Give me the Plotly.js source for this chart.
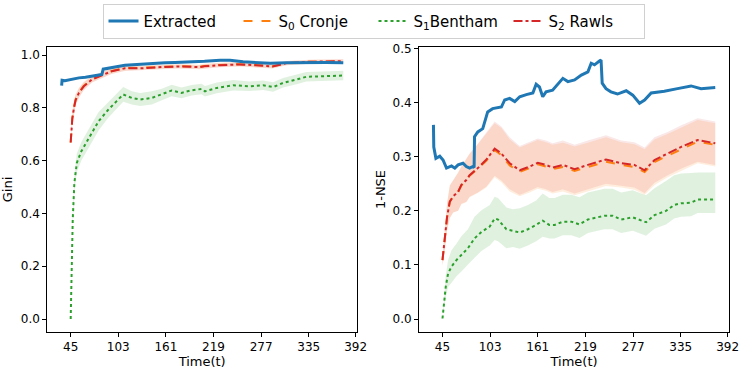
<!DOCTYPE html>
<html>
<head>
<meta charset="utf-8">
<script src="https://cdn.plot.ly/plotly-3.0.1.min.js"></script>
<style>
  body { margin: 0; background: #fff; }
  #chart { width: 747px; height: 372px; }
</style>
</head>
<body>
<div id="chart"></div>
<script>
// x ticks shared by both panels
let timeTicks = [45, 103, 161, 219, 277, 335, 392];

// ---- left panel: Gini ----
let tBlueL = [34, 34.5, 38, 46, 55, 63, 71, 78, 83, 84.6, 92, 99, 111, 124, 136, 148, 160, 172, 184, 202, 208, 227, 239, 255, 270, 288, 308, 322, 336, 356, 377];
let blueL = [0.885, 0.905, 0.903, 0.908, 0.914, 0.916, 0.920, 0.924, 0.927, 0.947, 0.950, 0.955, 0.962, 0.965, 0.967, 0.969, 0.971, 0.972, 0.973, 0.975, 0.977, 0.981, 0.981, 0.975, 0.971, 0.969, 0.971, 0.972, 0.973, 0.972, 0.971];

let tRawlsL = [45, 46, 47, 49, 51, 55, 61, 71, 83, 95, 111, 132, 156, 176, 202, 208, 227, 251, 270, 291, 308, 336, 377];
let rawlsL = [0.669, 0.72, 0.76, 0.80, 0.83, 0.857, 0.882, 0.908, 0.924, 0.939, 0.950, 0.950, 0.955, 0.957, 0.955, 0.958, 0.962, 0.965, 0.962, 0.957, 0.970, 0.975, 0.977];
let cronjeL = [0.669, 0.722, 0.762, 0.802, 0.832, 0.858, 0.884, 0.909, 0.925, 0.940, 0.951, 0.952, 0.956, 0.958, 0.956, 0.959, 0.963, 0.966, 0.963, 0.958, 0.970, 0.975, 0.976];
let spreadRawlsL = [0.005, 0.02, 0.025, 0.025, 0.02, 0.018, 0.015, 0.012, 0.01, 0.01, 0.01, 0.008, 0.008, 0.008, 0.008, 0.008, 0.008, 0.008, 0.008, 0.008, 0.008, 0.008, 0.008];

let tBenthamL = [45, 46, 47.5, 49.5, 52.5, 58, 66.7, 72, 79, 91, 101, 109, 119.5, 129.6, 143.8, 156, 168, 180, 192.4, 204.5, 208.5, 223, 243, 263, 279.4, 291.5, 303.7, 320, 332, 352, 377];
let benthamL = [0.0, 0.212, 0.377, 0.516, 0.592, 0.636, 0.680, 0.712, 0.750, 0.794, 0.826, 0.851, 0.838, 0.832, 0.838, 0.851, 0.866, 0.857, 0.867, 0.872, 0.863, 0.876, 0.886, 0.882, 0.886, 0.879, 0.895, 0.908, 0.918, 0.920, 0.923];
let spreadBenthamL = [0, 0.01, 0.02, 0.03, 0.035, 0.035, 0.035, 0.035, 0.035, 0.03, 0.03, 0.028, 0.025, 0.025, 0.025, 0.022, 0.022, 0.02, 0.02, 0.02, 0.02, 0.02, 0.02, 0.018, 0.018, 0.018, 0.018, 0.018, 0.018, 0.018, 0.018];

// ---- right panel: 1-NSE ----
let tBlueR = [34, 34.4, 37, 41.7, 45.7, 49.9, 56, 60, 64, 70, 74, 78, 82, 83.5, 84, 88, 94, 100, 106, 116.7, 120.7, 126.8, 133, 139, 147, 155, 159, 163, 167, 171, 179, 185, 191.5, 197.6, 205.8, 214, 222, 226, 230, 236, 238, 239.4, 244, 250, 258, 268.6, 276.6, 284.8, 291, 299, 315, 331, 347.5, 359.7, 377];
let blueR = [0.359, 0.318, 0.297, 0.301, 0.294, 0.279, 0.283, 0.279, 0.285, 0.288, 0.282, 0.279, 0.282, 0.28, 0.337, 0.346, 0.352, 0.383, 0.389, 0.392, 0.405, 0.408, 0.402, 0.411, 0.415, 0.418, 0.434, 0.429, 0.411, 0.420, 0.423, 0.433, 0.445, 0.439, 0.442, 0.451, 0.457, 0.473, 0.470, 0.477, 0.479, 0.436, 0.426, 0.420, 0.416, 0.422, 0.414, 0.399, 0.405, 0.418, 0.421, 0.426, 0.431, 0.426, 0.428];

let tRawlsR = [45, 47.8, 50.6, 53.9, 58, 64, 68, 74, 78, 88, 98.5, 108.5, 116.7, 126.8, 139, 151, 161, 171, 179, 191.5, 205.8, 222, 244, 262.5, 278.6, 291, 303, 319, 335, 355.6, 377];
let rawlsR = [0.109, 0.146, 0.189, 0.217, 0.227, 0.235, 0.248, 0.257, 0.266, 0.279, 0.295, 0.315, 0.306, 0.288, 0.275, 0.282, 0.289, 0.285, 0.280, 0.285, 0.277, 0.285, 0.295, 0.288, 0.285, 0.275, 0.294, 0.306, 0.318, 0.331, 0.325];
let cronjeR = [0.109, 0.146, 0.189, 0.217, 0.227, 0.235, 0.247, 0.256, 0.265, 0.278, 0.293, 0.312, 0.303, 0.284, 0.272, 0.279, 0.286, 0.282, 0.277, 0.281, 0.274, 0.281, 0.291, 0.285, 0.281, 0.272, 0.290, 0.302, 0.314, 0.328, 0.322];
let spreadRawlsR = [0.01, 0.02, 0.025, 0.03, 0.03, 0.035, 0.035, 0.04, 0.04, 0.045, 0.05, 0.05, 0.05, 0.048, 0.045, 0.045, 0.045, 0.045, 0.045, 0.045, 0.045, 0.045, 0.045, 0.042, 0.042, 0.042, 0.042, 0.04, 0.04, 0.04, 0.04];

let tBenthamR = [45, 46.6, 49, 51.8, 56, 62, 68, 76, 84, 92.4, 102.5, 108.5, 112.6, 122.8, 130.8, 139, 149, 159, 167, 175, 181.5, 191.5, 201.7, 211.8, 222, 242, 252, 262.5, 276.6, 286.8, 292.8, 303, 317, 327, 335.4, 347.5, 355.6, 377];
let benthamR = [0.001, 0.029, 0.060, 0.084, 0.097, 0.109, 0.118, 0.131, 0.149, 0.161, 0.171, 0.186, 0.184, 0.166, 0.163, 0.160, 0.166, 0.174, 0.182, 0.174, 0.174, 0.180, 0.180, 0.175, 0.184, 0.191, 0.191, 0.184, 0.188, 0.182, 0.179, 0.192, 0.200, 0.211, 0.214, 0.215, 0.221, 0.221];
let upBenthamR = [0, 0.01, 0.02, 0.025, 0.03, 0.03, 0.035, 0.035, 0.04, 0.04, 0.04, 0.04, 0.04, 0.04, 0.04, 0.045, 0.045, 0.045, 0.05, 0.05, 0.05, 0.05, 0.05, 0.05, 0.05, 0.05, 0.05, 0.05, 0.05, 0.05, 0.05, 0.05, 0.055, 0.055, 0.055, 0.055, 0.05, 0.05];
let downBenthamR = [0, 0.01, 0.02, 0.025, 0.03, 0.03, 0.03, 0.03, 0.035, 0.035, 0.035, 0.04, 0.04, 0.035, 0.03, 0.03, 0.03, 0.03, 0.03, 0.025, 0.025, 0.025, 0.025, 0.025, 0.025, 0.025, 0.025, 0.025, 0.025, 0.025, 0.025, 0.025, 0.025, 0.025, 0.025, 0.025, 0.025, 0.025];

const BLUE = '#1f77b4', ORANGE = '#ff7f0e', GREEN = '#2ca02c', RED = '#d62728';

// closed polygon around a line: upper edge forward, lower edge back
function band(t, y, up, down, color, xa, ya) {
  let xs = t.concat(t.slice().reverse());
  let hi = y.map((v, i) => v + up[i]);
  let lo = y.map((v, i) => v - down[i]).reverse();
  return {
    x: xs, y: hi.concat(lo), xaxis: xa, yaxis: ya,
    type: 'scatter', mode: 'lines', fill: 'toself',
    fillcolor: color, line: { width: 0 },
    hoverinfo: 'skip', showlegend: false
  };
}

function line(t, y, color, width, dash, name, xa, ya, legend, rank) {
  return {
    x: t, y: y, xaxis: xa, yaxis: ya, name: name,
    type: 'scatter', mode: 'lines',
    line: { color: color, width: width, dash: dash },
    showlegend: legend, legendrank: rank
  };
}

let traces = [
  band(tBenthamL, benthamL, spreadBenthamL, spreadBenthamL, 'rgba(44,160,44,0.15)', 'x', 'y'),
  band(tRawlsL, cronjeL, spreadRawlsL, spreadRawlsL, 'rgba(255,127,14,0.14)', 'x', 'y'),
  band(tRawlsL, rawlsL, spreadRawlsL, spreadRawlsL, 'rgba(214,39,40,0.11)', 'x', 'y'),
  band(tBenthamR, benthamR, upBenthamR, downBenthamR, 'rgba(44,160,44,0.15)', 'x2', 'y2'),
  band(tRawlsR, cronjeR, spreadRawlsR, spreadRawlsR, 'rgba(255,127,14,0.14)', 'x2', 'y2'),
  band(tRawlsR, rawlsR, spreadRawlsR, spreadRawlsR, 'rgba(214,39,40,0.11)', 'x2', 'y2'),

  line(tBenthamL, benthamL, GREEN, 2, 'dot', 'S<sub>1</sub>Bentham', 'x', 'y', true, 3),
  line(tRawlsL, cronjeL, ORANGE, 2, 'dash', 'S<sub>0</sub> Cronje', 'x', 'y', true, 2),
  line(tRawlsL, rawlsL, RED, 2, 'dashdot', 'S<sub>2</sub> Rawls', 'x', 'y', true, 4),
  line(tBlueL, blueL, BLUE, 3, 'solid', 'Extracted', 'x', 'y', true, 1),

  line(tBenthamR, benthamR, GREEN, 2, 'dot', 'S1', 'x2', 'y2', false),
  line(tRawlsR, cronjeR, ORANGE, 2, 'dash', 'S0', 'x2', 'y2', false),
  line(tRawlsR, rawlsR, RED, 2, 'dashdot', 'S2', 'x2', 'y2', false),
  line(tBlueR, blueR, BLUE, 3, 'solid', 'Extracted', 'x2', 'y2', false)
];

let axisBase = {
  showgrid: false, zeroline: false, showline: true, mirror: true,
  linecolor: '#000', linewidth: 1, ticks: 'outside', ticklen: 4,
  tickcolor: '#000', tickfont: { size: 12, color: '#000' }, automargin: false
};

let layout = {
  width: 747, height: 372,
  margin: { l: 0, r: 0, t: 0, b: 0 },
  paper_bgcolor: '#fff', plot_bgcolor: '#fff',
  font: { family: 'DejaVu Sans', color: '#000' },
  showlegend: true,
  legend: {
    orientation: 'h', x: 0.5, xanchor: 'center', y: 0.99, yanchor: 'top',
    font: { size: 15 }, bordercolor: '#d0d0d0', borderwidth: 1,
    traceorder: 'normal', itemwidth: 30, entrywidth: 90
  },
  xaxis: Object.assign({}, axisBase, {
    domain: [0.0633, 0.478], range: [16.5, 393.8],
    tickvals: timeTicks, ticktext: timeTicks.map(String),
    title: { text: 'Time(t)', font: { size: 13 }, standoff: 2 }
  }),
  yaxis: Object.assign({}, axisBase, {
    domain: [0.1075, 0.8737], range: [-0.049, 1.031],
    tickvals: [0, 0.2, 0.4, 0.6, 0.8, 1.0], tickformat: '.1f',
    title: { text: 'Gini', font: { size: 13 }, standoff: 6 }
  }),
  xaxis2: Object.assign({}, axisBase, {
    domain: [0.561, 0.976], range: [16.5, 393.8], anchor: 'y2',
    tickvals: timeTicks, ticktext: timeTicks.map(String),
    title: { text: 'Time(t)', font: { size: 13 }, standoff: 2 }
  }),
  yaxis2: Object.assign({}, axisBase, {
    domain: [0.1075, 0.8737], range: [-0.024, 0.503], anchor: 'x2',
    tickvals: [0, 0.1, 0.2, 0.3, 0.4, 0.5], tickformat: '.1f',
    title: { text: '1-NSE', font: { size: 13 }, standoff: 4 }
  })
};

Plotly.newPlot('chart', traces, layout, { displayModeBar: false, staticPlot: true });
</script>
</body>
</html>
